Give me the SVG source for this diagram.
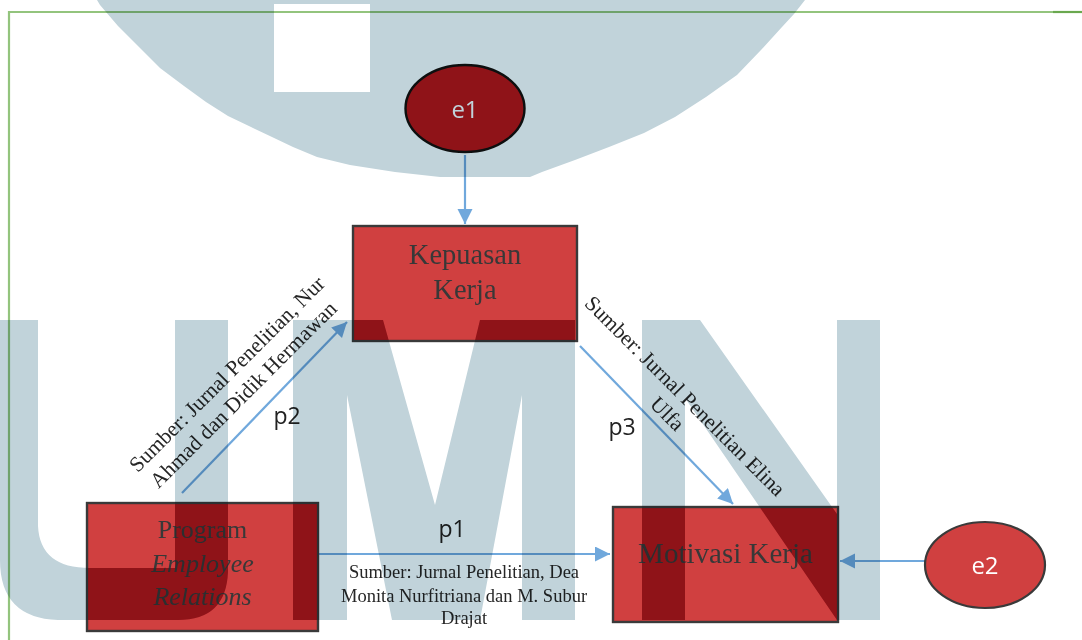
<svg xmlns="http://www.w3.org/2000/svg" xmlns:xlink="http://www.w3.org/1999/xlink" width="1082" height="640" viewBox="0 0 1082 640">
<style>
.box{fill:#d04040;stroke:#3a3a3a;stroke-width:2.2}
.ell{fill:#d04040;stroke:#3a3a3a;stroke-width:2.2}
.serif{font-family:"Liberation Serif","Times New Roman",serif;fill:#383838}
.lbl{font-family:"Liberation Serif","Times New Roman",serif;fill:#262626}
.sans{font-family:"Open Sans","Liberation Sans",sans-serif}
.conn{stroke:#70a8dc;stroke-width:2.2;fill:none}
.wm{fill:#c1d3da;mix-blend-mode:multiply}
.dk{fill:#bd161c}
</style>
<defs>
<marker id="ah" markerUnits="userSpaceOnUse" markerWidth="16" markerHeight="16" refX="15" refY="7.5" orient="auto">
<path d="M0,0 L15,7.5 L0,15 Z" fill="#70a8dc"/>
</marker>
<path id="wmBowl" fill-rule="evenodd" d="M97,0 L100,5 L118,26 L138,46 L160,68 L184,86 L206,102 L228,116 L251,127 L272,137 L293,147 L317,157 L350,165 L395,172 L440,177 L530,177 L542,172 L575,160 L609,147 L644,133 L675,117 L706,97 L737,75 L761,50 L782,27 L794,14 L805,0 Z M274,4 H370 V92 H274 Z"/>
<path id="wmU" d="M0,320 H38 V526 Q40,568 90,568 H175 V320 H228 V572 Q226,620 178,620 H58 Q0,618 0,560 Z"/>
<path id="wmM" d="M293,320 L383,320 L435,505 L480,320 L575,320 L575,620 L522,620 L522,395 L480,620 L392,620 L347,395 L347,620 L293,620 Z"/>
<path id="wmN" d="M642,320 L700,320 L837,514 L837,320 L880,320 L880,620 L837,620 L685,398 L685,620 L642,620 Z"/>
<clipPath id="cpKep"><rect x="353" y="226" width="224" height="115"/></clipPath>
<clipPath id="cpProg"><rect x="87" y="503" width="231" height="128"/></clipPath>
<clipPath id="cpMot"><rect x="613" y="507" width="225" height="115"/></clipPath>
</defs>
<rect x="0" y="0" width="1082" height="640" fill="#ffffff"/>
<path d="M9,640 V12 H1082" fill="none" stroke="#93c47d" stroke-width="2.2"/>
<line x1="1053" y1="12" x2="1082" y2="12" stroke="#6aa84f" stroke-width="2.2"/>

<g id="connectors">
<line class="conn" x1="465" y1="155" x2="465" y2="224" marker-end="url(#ah)"/>
<line class="conn" x1="182" y1="493" x2="347" y2="322" marker-end="url(#ah)"/>
<line class="conn" x1="580" y1="346" x2="733" y2="504" marker-end="url(#ah)"/>
<line class="conn" x1="318" y1="554" x2="610" y2="554" marker-end="url(#ah)"/>
<line class="conn" x1="925" y1="561" x2="840" y2="561" marker-end="url(#ah)"/>
</g>

<g id="labels">
<text class="sans" x="452" y="537" font-size="23" text-anchor="middle" fill="#222">p1</text>
<text class="sans" x="287" y="424" font-size="23" text-anchor="middle" fill="#222">p2</text>
<text class="sans" x="622" y="435" font-size="23" text-anchor="middle" fill="#222">p3</text>
<g class="lbl" font-size="18.5" text-anchor="middle">
<text x="464" y="578">Sumber: Jurnal Penelitian, Dea</text>
<text x="464" y="602">Monita Nurfitriana dan M. Subur</text>
<text x="464" y="624">Drajat</text>
</g>
<g class="lbl" font-size="21.5" text-anchor="middle" transform="translate(232,379) rotate(-45)">
<text x="0" y="0">Sumber: Jurnal Penelitian, Nur</text>
<text x="-3" y="26">Ahmad dan Didik Hermawan</text>
</g>
<g class="lbl" font-size="21.5" text-anchor="middle" transform="translate(680,401) rotate(45)">
<text x="0" y="0">Sumber: Jurnal Penelitian Elina</text>
<text x="0" y="25">Ulfa</text>
</g>
</g>

<g id="e1">
<ellipse cx="465" cy="108.5" rx="59.5" ry="43.5" fill="#bd161c" stroke="#111" stroke-width="2.4"/>
<text class="sans" x="465" y="118" font-size="24" text-anchor="middle" fill="#ffffff">e1</text>
</g>
<g id="kepuasan">
<rect class="box" x="353" y="226" width="224" height="115"/>
<g clip-path="url(#cpKep)"><use xlink:href="#wmM" class="dk"/></g>
<rect x="353" y="226" width="224" height="115" fill="none" stroke="#3a3a3a" stroke-width="2.2"/>
<text class="serif" font-size="28.5" text-anchor="middle"><tspan x="465" y="264">Kepuasan</tspan><tspan x="465" y="299">Kerja</tspan></text>
</g>
<g id="program">
<rect class="box" x="87" y="503" width="231" height="128"/>
<g clip-path="url(#cpProg)"><use xlink:href="#wmU" class="dk"/><use xlink:href="#wmM" class="dk"/></g>
<rect x="87" y="503" width="231" height="128" fill="none" stroke="#3a3a3a" stroke-width="2.2"/>
<text class="serif" font-size="26" text-anchor="middle"><tspan x="202.5" y="538">Program</tspan><tspan x="202.5" y="572" font-style="italic">Employee</tspan><tspan x="202.5" y="605" font-style="italic">Relations</tspan></text>
</g>
<g id="motivasi">
<rect class="box" x="613" y="507" width="225" height="115"/>
<g clip-path="url(#cpMot)"><use xlink:href="#wmN" class="dk"/></g>
<rect x="613" y="507" width="225" height="115" fill="none" stroke="#3a3a3a" stroke-width="2.2"/>
<text class="serif" x="725.5" y="563" font-size="29" text-anchor="middle">Motivasi Kerja</text>
</g>
<g id="e2">
<ellipse class="ell" cx="985" cy="565" rx="60" ry="43"/>
<text class="sans" x="985" y="574" font-size="24" text-anchor="middle" fill="#ffffff">e2</text>
</g>

<g id="watermark">
<use xlink:href="#wmBowl" class="wm"/>
<use xlink:href="#wmU" class="wm"/>
<use xlink:href="#wmM" class="wm"/>
<use xlink:href="#wmN" class="wm"/>
</g>
</svg>
